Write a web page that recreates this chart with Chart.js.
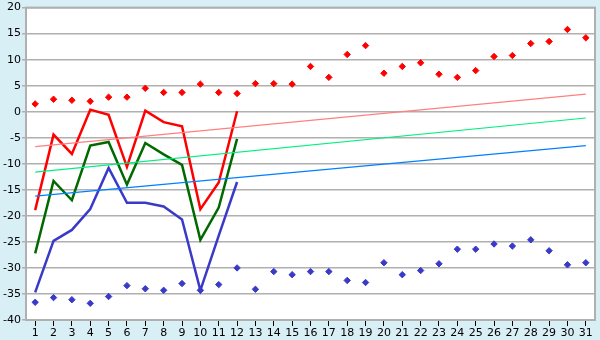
<!DOCTYPE html>
<html>
<head>
<meta charset="utf-8">
<script src="https://cdn.jsdelivr.net/npm/chart.js@4/dist/chart.umd.min.js"></script>
<style>
  html, body { margin: 0; padding: 0; background: #d9eff6; }
  #wrap { width: 600px; height: 340px; }
</style>
</head>
<body>
<div id="wrap"><canvas id="grafico" width="600" height="340"></canvas></div>
<script>
// Días del mes
const dias = Array.from({ length: 31 }, (_, i) => String(i + 1));

// Puntos sueltos (rombos)
const maxPuntos = [1.5, 2.4, 2.2, 2.0, 2.8, 2.8, 4.5, 3.7, 3.7, 5.3, 3.7, 3.5, 5.4, 5.4, 5.3,
  8.7, 6.6, 11.0, 12.7, 7.4, 8.7, 9.4, 7.2, 6.6, 7.9, 10.6, 10.8, 13.1, 13.5, 15.8, 14.2];
const minPuntos = [-36.6, -35.7, -36.1, -36.8, -35.5, -33.4, -34.0, -34.3, -33.0, -34.3, -33.2, -30.0, -34.1, -30.7, -31.3,
  -30.7, -30.7, -32.4, -32.8, -29.0, -31.3, -30.5, -29.2, -26.4, -26.4, -25.4, -25.8, -24.6, -26.7, -29.4, -29.0];

// Líneas de los primeros 12 días
const lineaRoja = [-18.9, -4.4, -8.1, 0.4, -0.6, -10.6, 0.2, -2.0, -2.8, -18.7, -13.6, 0.1];
const lineaVerde = [-27.2, -13.3, -17.0, -6.5, -5.8, -14.0, -6.0, -8.2, -10.2, -24.6, -18.4, -5.2];
const lineaAzul = [-34.7, -24.8, -22.7, -18.7, -10.8, -17.5, -17.5, -18.2, -20.7, -34.3, -23.8, -13.5];

// Tendencias: valor en el día 1 y en el día 31
const tendRoja = [-6.7, 3.4];
const tendVerde = [-11.6, -1.2];
const tendAzul = [-16.2, -6.5];

function tendencia(par) {
    const d = dias.map(() => null);
    d[0] = par[0];
    d[d.length - 1] = par[1];
    return d;
}

const fondoArea = {
    id: 'fondoArea',
    beforeDraw(chart) {
        const { ctx, chartArea: a } = chart;
        ctx.save();
        ctx.fillStyle = '#ffffff';
        ctx.fillRect(a.left, a.top, a.right - a.left, a.bottom - a.top);
        ctx.restore();
    },
    afterDraw(chart) {
        const { ctx, chartArea: a } = chart;
        ctx.save();
        ctx.strokeStyle = '#b0b0b0';
        ctx.lineWidth = 2;
        ctx.strokeRect(a.left, a.top, a.right - a.left, a.bottom - a.top);
        ctx.restore();
    }
};

const linea = (data, color, ancho) => ({
    data, borderColor: color, borderWidth: ancho, pointRadius: 0, tension: 0, fill: false
});
const puntos = (data, color) => ({
    data, showLine: false, pointStyle: 'rectRot', pointRadius: 3.2,
    pointBackgroundColor: color, pointBorderColor: color, borderColor: color
});

new Chart(document.getElementById('grafico'), {
    type: 'line',
    data: {
        labels: dias,
        datasets: [
            { ...linea(tendencia(tendRoja), '#ff8080', 1.2), spanGaps: true },
            { ...linea(tendencia(tendVerde), '#00f080', 1.2), spanGaps: true },
            { ...linea(tendencia(tendAzul), '#0080ff', 1.2), spanGaps: true },
            linea(lineaAzul, '#3a3ac8', 2.5),
            linea(lineaVerde, '#006a00', 2.5),
            linea(lineaRoja, '#ff0000', 2.5),
            puntos(maxPuntos, '#ff0000'),
            puntos(minPuntos, '#3a3ac8')
        ]
    },
    options: {
        responsive: false,
        animation: false,
        events: [],
        layout: { padding: { top: 3, right: 5, left: 0, bottom: 0 } },
        plugins: { legend: { display: false }, tooltip: { enabled: false } },
        scales: {
            x: {
                offset: true,
                grid: { display: true, drawOnChartArea: false, drawTicks: true, tickLength: 6, color: '#000000' },
                border: { display: false },
                ticks: { color: '#000000', font: { family: 'DejaVu Sans', size: 11 }, padding: 1, maxRotation: 0, autoSkip: false },
                afterFit(s) { s.height = 20; }
            },
            y: {
                min: -40,
                max: 20,
                grid: { color: '#b0b0b0', lineWidth: 1.5, tickLength: 4 },
                border: { display: false },
                ticks: { stepSize: 5, color: '#000000', font: { family: 'DejaVu Sans', size: 11 }, padding: 1 },
                afterFit(s) { s.width = 26; }
            }
        }
    },
    plugins: [fondoArea]
});
</script>
</body>
</html>
